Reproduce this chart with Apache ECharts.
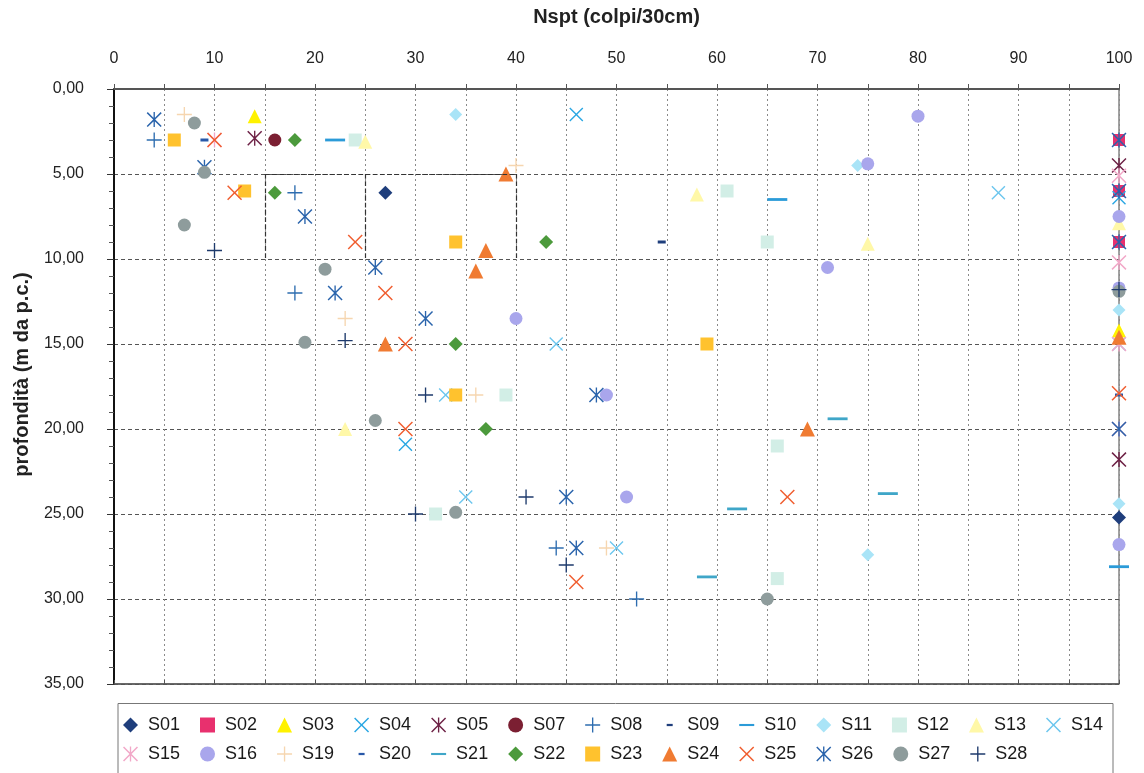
<!DOCTYPE html>
<html><head><meta charset="utf-8">
<script src="https://cdn.jsdelivr.net/npm/echarts@6/dist/echarts.min.js"></script>
<style>html,body{margin:0;padding:0;background:#fff}#c{width:1144px;height:773px}</style>
</head><body><div id="c"></div>
<script>
// ---- tick labels ----
const xTickLabels = ['0','10','20','30','40','50','60','70','80','90','100'];
const yTickLabels = ['0,00','5,00','10,00','15,00','20,00','25,00','30,00','35,00'];

// ---- series data: [Nspt, depth] ----
const S01 = [[27,6.1],[100,25.2]];
const S02 = [[100,3],[100,6],[100,9]];
const S03 = [[14,1.6],[100,14.2]];
const S04 = [[46,1.5],[29,20.9],[100,6.4]];
const S05 = [[14,2.9],[100,4.5],[100,21.8]];
const S07 = [[16,3]];
const S08 = [[4,3],[18,6.1],[18,12],[44,27],[52,30]];
const S09 = [[54.5,9]];
const S10 = [[22,3],[66,6.5],[100,28.1]];
const S11 = [[34,1.5],[74,4.5],[75,27.4],[100,13],[100,24.4]];
const S12 = [[24,3],[61,6],[65,9],[39,18],[66,21],[32,25],[66,28.8]];
const S13 = [[25,3.1],[58,6.2],[75,9.1],[23,20],[100,7.9]];
const S14 = [[88,6.1],[44,15],[33,18],[35,24],[50,27],[100,15]];
const S15 = [[10,3],[100,5.1],[100,10.2],[100,15],[100,20]];
const S16 = [[80,1.6],[75,4.4],[71,10.5],[40,13.5],[49,18],[51,24],[100,7.5],[100,26.8],[100,11.7]];
const S19 = [[7,1.5],[40,4.5],[23,13.5],[36,18],[49,27]];
const S20 = [[9,3],[100,18]];
const S21 = [[72,19.4],[62,24.7],[77,23.8],[59,28.7]];
const S22 = [[18,3],[16,6.1],[43,9],[34,15],[37,20]];
const S23 = [[6,3],[13,6],[34,9],[59,15],[34,18]];
const S24 = [[39,5],[37,9.5],[36,10.7],[27,15],[69,20],[100,14.6]];
const S25 = [[10,3],[12,6.1],[24,9],[27,12],[29,15],[29,20],[67,24],[46,29],[100,17.9]];
const S26 = [[4,1.8],[9,4.6],[19,7.5],[26,10.5],[22,12],[31,13.5],[48,18],[45,24],[46,27],[100,3],[100,6],[100,9],[100,20]];
const S27 = [[8,2],[9,4.9],[7,8],[21,10.6],[19,14.9],[26,19.5],[34,24.9],[65,30],[100,11.9]];
const S28 = [[10,9.5],[23,14.8],[31,18],[30,25],[41,24],[45,28],[100,11.8]];

// darker dashed guide segments seen in the original (x from, y from, x to, y to)
const guideSegs = [[15,5,40,5],[15,5,15,10],[25,5,25,10],[40,5,40,10]];

// ---- symbols ----
const P_X = 'path://M0,1.4L1.4,0L10,8.6L18.6,0L20,1.4L11.4,10L20,18.6L18.6,20L10,11.4L1.4,20L0,18.6L8.6,10Z';
const P_PLUS = 'path://M9.1,0H10.9V9.1H20V10.9H10.9V20H9.1V10.9H0V9.1H9.1Z';
const P_AST = 'path://M0,1.4L1.4,0L10,8.6L18.6,0L20,1.4L11.4,10L20,18.6L18.6,20L10,11.4L1.4,20L0,18.6L8.6,10Z M9.1,0H10.9V20H9.1Z';
const P_DASH_L = 'path://M0,0M20,20M0,8.6H20V11.4H0Z';
const P_DASH_S = 'path://M0,0M20,20M6,8.5H14V11.5H6Z';

const seriesDefs = [
  ['S01', S01, 'diamond', 14, '#1F3E7C'],
  ['S02', S02, 'rect', 12, '#E8306E'],
  ['S03', S03, 'triangle', 14, '#FFF200'],
  ['S04', S04, P_X, 14, '#2AA7E3'],
  ['S05', S05, P_AST, 15, '#6E2246'],
  ['S07', S07, 'circle', 13, '#7B1F32'],
  ['S08', S08, P_PLUS, 15, '#2E6DB0'],
  ['S09', S09, P_DASH_S, 20, '#1F3E7C'],
  ['S10', S10, P_DASH_L, 20, '#2B9BD8'],
  ['S11', S11, 'diamond', 13, '#A9E4F7'],
  ['S12', S12, 'rect', 13, '#D2EEE6'],
  ['S13', S13, 'triangle', 14, '#FFF8A8'],
  ['S14', S14, P_X, 14, '#6CC6EE'],
  ['S15', S15, P_AST, 15, '#F2A8C8'],
  ['S16', S16, 'circle', 13, '#A9A6EC'],
  ['S19', S19, P_PLUS, 15, '#F6D6B0'],
  ['S20', S20, P_DASH_S, 20, '#2858A8'],
  ['S21', S21, P_DASH_L, 20, '#3FA6C8'],
  ['S22', S22, 'diamond', 14, '#4C9A3C'],
  ['S23', S23, 'rect', 13, '#FFC22E'],
  ['S24', S24, 'triangle', 15, '#F07B32'],
  ['S25', S25, P_X, 15, '#F05E30'],
  ['S26', S26, P_AST, 15, '#2A64AC'],
  ['S27', S27, 'circle', 13, '#8E9C9C'],
  ['S28', S28, P_PLUS, 15, '#1E3A6C']
];

const FONT = "'Liberation Sans', Arial, sans-serif";
const legendRow1 = ['S01','S02','S03','S04','S05','S07','S08','S09','S10','S11','S12','S13','S14'];
const legendRow2 = ['S15','S16','S19','S20','S21','S22','S23','S24','S25','S26','S27','S28'];
const symOf = {};
seriesDefs.forEach(d => symOf[d[0]] = d[2]);
function legendCfg(names, top) {
  return {
    left: 118, top: top, orient: 'horizontal', itemWidth: 15, itemHeight: 15, itemGap: 20,
    textStyle: {fontSize: 18, color: '#1a1a1a', fontFamily: FONT, padding: [0,0,0,5]},
    data: names.map(n => ({name: n, icon: symOf[n]})),
    selectedMode: false
  };
}

const series = [{
  name: 'guide', type: 'scatter', data: [], silent: true, z: 1,
  markLine: {
    silent: true, symbol: 'none', label: {show: false}, animation: false,
    lineStyle: {color: '#333', type: 'dashed', width: 1.2},
    emphasis: {disabled: true},
    data: guideSegs.map(s => [{coord: [s[0], s[1]]}, {coord: [s[2], s[3]]}])
  }
}].concat(seriesDefs.map(d => ({
  name: d[0], type: 'scatter', data: d[1], symbol: d[2], symbolSize: d[3], z: 3,
  itemStyle: {color: d[4], opacity: 1}, emphasis: {disabled: true}
})));

const chart = echarts.init(document.getElementById('c'), null, {renderer: 'canvas'});
chart.setOption({
  backgroundColor: '#fff',
  animation: false,
  grid: {left: 114, right: 25, top: 89, bottom: 89, show: true, borderColor: '#444', borderWidth: 1, backgroundColor: 'transparent'},
  xAxis: [{
    type: 'value', position: 'top', min: 0, max: 100, interval: 10,
    name: 'Nspt (colpi/30cm)', nameLocation: 'middle', nameGap: 62,
    nameTextStyle: {fontSize: 20, fontWeight: 'bold', color: '#222', fontFamily: FONT},
    axisLine: {show: true, lineStyle: {color: '#555', width: 2}},
    axisTick: {show: true, length: 5, lineStyle: {color: '#555'}},
    minorTick: {show: true, splitNumber: 2, length: 5, lineStyle: {color: '#555'}},
    axisLabel: {margin: 22, fontSize: 16, color: '#222', fontFamily: FONT,
      formatter: v => xTickLabels[Math.round(v / 10)]},
    splitLine: {show: true, lineStyle: {color: '#8a8a8a', type: [2, 3], width: 1}},
    minorSplitLine: {show: true, lineStyle: {color: '#8a8a8a', type: [2, 3], width: 1}}
  }, {
    type: 'value', position: 'bottom', min: 0, max: 100, interval: 10,
    axisLine: {show: true, lineStyle: {color: '#555', width: 1.5}},
    axisTick: {show: true, inside: true, length: 4, lineStyle: {color: '#555'}},
    minorTick: {show: true, splitNumber: 2, length: 4, lineStyle: {color: '#555'}},
    axisLabel: {show: false}, splitLine: {show: false}
  }],
  yAxis: [{
    type: 'value', inverse: true, min: 0, max: 35, interval: 5,
    name: 'profondità (m da p.c.)', nameLocation: 'middle', nameGap: 82, nameRotate: 90,
    nameTextStyle: {fontSize: 20, fontWeight: 'bold', color: '#222', fontFamily: FONT, padding: [0,0,0,24]},
    axisLine: {show: true, lineStyle: {color: '#111', width: 2}},
    axisTick: {show: true, length: 7, lineStyle: {color: '#333'}},
    minorTick: {show: true, splitNumber: 5, length: 5, lineStyle: {color: '#555'}},
    axisLabel: {margin: 30, fontSize: 16, color: '#222', fontFamily: FONT,
      formatter: v => yTickLabels[Math.round(v / 5)]},
    splitLine: {show: true, lineStyle: {color: '#555', type: [4, 3], width: 1}}
  }],
  legend: [legendCfg(legendRow1, 711), legendCfg(legendRow2, 740)],
  graphic: [{
    type: 'rect', silent: true, z: -1,
    shape: {x: 118, y: 703.5, width: 995, height: 90},
    style: {fill: '#fff', stroke: '#777', lineWidth: 1}
  }],
  series: series
});
</script></body></html>
